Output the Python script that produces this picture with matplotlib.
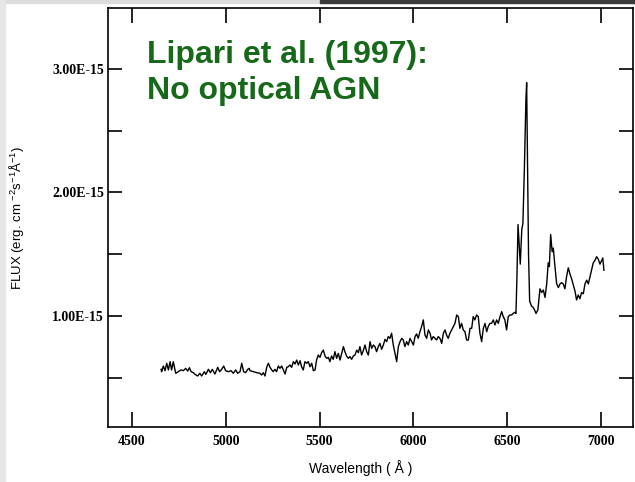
import matplotlib.pyplot as plt
from matplotlib.patches import Rectangle

# spectrum (wavelength in Angstrom, flux in 1e-15 erg/cm2/s/A)
wave = [
    4655, 4658, 4667, 4676, 4685, 4694, 4703, 4711, 4720, 4733, 4747, 4761, 4774, 4786,
    4797, 4806, 4815, 4827, 4836, 4850, 4862, 4871, 4886, 4894, 4907, 4918, 4928, 4942,
    4957, 4967, 4978, 4989, 4999, 5014, 5028, 5040, 5053, 5063, 5076, 5085, 5095, 5106,
    5117, 5125,
    5129, 5147, 5165, 5182, 5191, 5200, 5209, 5218, 5227, 5236, 5245, 5253, 5262, 5271,
    5280, 5289, 5298, 5307, 5316, 5325, 5333, 5342, 5351, 5360, 5369, 5378, 5387, 5396,
    5404, 5413, 5422, 5431, 5440, 5449, 5458, 5467, 5476, 5484, 5493, 5502, 5511, 5520,
    5529, 5538, 5547, 5555, 5564, 5573, 5582, 5591, 5600, 5609, 5618, 5627, 5635, 5644,
    5653, 5662, 5671, 5680, 5689, 5698, 5707, 5715, 5724, 5733, 5742, 5751, 5760, 5769,
    5778, 5787, 5795, 5804, 5813, 5822, 5831, 5840, 5849, 5858, 5866, 5875, 5884, 5893,
    5902, 5911, 5920, 5929, 5938, 5946, 5955, 5964, 5973, 5982, 5991, 6000, 6009, 6017,
    6026, 6035, 6044, 6053, 6062, 6071, 6080, 6089, 6097, 6106, 6115, 6124, 6133, 6142,
    6151, 6160, 6169, 6177, 6186, 6195, 6204, 6213, 6222, 6231,
    6240, 6248, 6257, 6266, 6275, 6284, 6293, 6302, 6311, 6319, 6328, 6337, 6346, 6355,
    6364, 6373, 6382, 6391, 6399, 6408, 6417, 6426, 6435, 6444, 6453, 6462, 6471, 6479,
    6488, 6497, 6506, 6515, 6524, 6533,
    6541, 6547, 6552, 6558, 6563, 6570, 6578, 6584, 6592, 6600, 6604, 6609, 6614, 6620,
    6630, 6638, 6646, 6654, 6664, 6675, 6684, 6693, 6702, 6711, 6719, 6725, 6732, 6740,
    6746, 6755, 6764, 6773, 6782, 6790, 6799, 6808, 6817, 6826, 6835, 6844, 6853, 6862,
    6870, 6879, 6888, 6897, 6906, 6915, 6924, 6933, 6942, 6950, 6959, 6968, 6977, 6986,
    6995, 7004, 7010, 7016,
]
flux = [
    0.568, 0.549, 0.595, 0.557, 0.617, 0.563, 0.630, 0.563, 0.630, 0.536, 0.549, 0.563, 0.557, 0.576,
    0.554, 0.581, 0.549, 0.541, 0.527, 0.514, 0.536, 0.514, 0.549, 0.527, 0.568, 0.541, 0.568, 0.530,
    0.584, 0.549, 0.568, 0.595, 0.557, 0.549, 0.557, 0.536, 0.563, 0.536, 0.549, 0.617, 0.549, 0.541,
    0.568, 0.576,
    0.557, 0.549, 0.541, 0.536, 0.522, 0.541, 0.514, 0.584, 0.617, 0.584, 0.563, 0.549, 0.568, 0.549,
    0.595, 0.576, 0.595, 0.563, 0.530, 0.584, 0.589, 0.603, 0.584, 0.630, 0.611, 0.643, 0.603, 0.638,
    0.589, 0.563, 0.630, 0.617, 0.630, 0.589, 0.617, 0.557, 0.563, 0.643, 0.684, 0.665, 0.703, 0.724,
    0.676, 0.657, 0.665, 0.630, 0.676, 0.649, 0.711, 0.657, 0.697, 0.643, 0.697, 0.752, 0.711, 0.676,
    0.657, 0.671, 0.649, 0.676, 0.684, 0.724, 0.703, 0.752, 0.684, 0.719, 0.765, 0.711, 0.684, 0.792,
    0.738, 0.765, 0.752, 0.711, 0.752, 0.778, 0.730, 0.765, 0.811, 0.792, 0.833, 0.819, 0.860, 0.765,
    0.697, 0.630, 0.752, 0.792, 0.819, 0.806, 0.752, 0.792, 0.765, 0.819, 0.792, 0.765, 0.833, 0.854,
    0.819, 0.873, 0.914, 0.968, 0.846, 0.819, 0.887, 0.860, 0.806, 0.833, 0.819, 0.806, 0.833, 0.819,
    0.778, 0.860, 0.887, 0.846, 0.819, 0.860, 0.887, 0.914, 0.941, 1.008,
    0.995, 0.900, 0.940, 0.887, 0.873, 0.805, 0.805, 0.900, 0.900, 0.995, 0.968, 1.008, 0.995, 0.860,
    0.792, 0.900, 0.940, 0.873, 0.914, 0.940, 0.940, 0.968, 0.927, 0.968, 0.940, 0.995, 1.035, 0.995,
    0.968, 0.887, 0.995, 1.008, 1.008, 1.022,
    1.03, 1.02, 1.30, 1.74, 1.60, 1.42, 1.70, 1.75, 2.20, 2.75, 2.89, 2.20, 1.50, 1.12,
    1.08, 1.07, 1.05, 1.02, 1.05, 1.22, 1.19, 1.21, 1.15, 1.26, 1.43, 1.40, 1.66, 1.52,
    1.55, 1.40, 1.26, 1.23, 1.26, 1.27, 1.26, 1.22, 1.32, 1.39, 1.34, 1.30, 1.25, 1.20,
    1.13, 1.17, 1.14, 1.19, 1.18, 1.26, 1.29, 1.26, 1.32, 1.37, 1.43, 1.45, 1.48, 1.46,
    1.42, 1.45, 1.47, 1.37,
]

xticks = [4500, 5000, 5500, 6000, 6500, 7000]
yticks = [1.0, 2.0, 3.0]
yticklabels = ['1.00E-15', '2.00E-15', '3.00E-15']
yminor = [0.5, 1.5, 2.5]

fig = plt.figure(figsize=(6.35, 4.82), dpi=100)
ax = fig.add_axes([108 / 635, 1 - 427 / 482, 525 / 635, 419 / 482])

ax.plot(wave, flux, color='black', lw=1.0)

ax.set_xlim(4372, 7171)
ax.set_ylim(0.101, 3.494)

ax.set_xticks(xticks)
ax.set_xticklabels([str(t) for t in xticks], fontfamily='Liberation Serif',
                   fontweight='bold', fontsize=10)
ax.set_yticks(yticks)
ax.set_yticklabels(yticklabels, fontfamily='Liberation Serif',
                   fontweight='bold', fontsize=10)
ax.set_yticks(yminor, minor=True)

ax.tick_params(axis='x', which='both', direction='in', length=11, width=1.2,
               top=True, pad=6)
ax.tick_params(axis='y', which='both', direction='in', length=10, width=1.2,
               right=True, pad=3)
for s in ax.spines.values():
    s.set_linewidth(1.2)

ax.set_xlabel('Wavelength ( Å )', fontfamily='Liberation Sans', fontsize=10)
ax.xaxis.set_label_coords(0.482, -0.079)
ax.set_ylabel(r'FLUX (erg. cm $^{\mathregular{-2}}$s$^{\mathregular{-1}}$Å$^{\mathregular{-1}}$)',
              fontfamily='Liberation Sans', fontsize=9.5)
ax.yaxis.set_label_coords(-0.157, 0.5)

green = '#17691a'
ax.text(0.074, 1 - (63 - 8) / 419, 'Lipari et al. (1997):', transform=ax.transAxes,
        color=green, fontsize=23, fontweight='bold', fontfamily='Liberation Sans',
        va='baseline')
ax.text(0.074, 1 - (99 - 8) / 419, 'No optical AGN', transform=ax.transAxes,
        color=green, fontsize=23, fontweight='bold', fontfamily='Liberation Sans',
        va='baseline')

# scan edges of the slide
fig.patches.append(Rectangle((0, 1 - 3 / 482), 320 / 635, 3 / 482,
                             transform=fig.transFigure, color='#dcdcdc', zorder=0))
fig.patches.append(Rectangle((320 / 635, 1 - 3 / 482), 315 / 635, 3 / 482,
                             transform=fig.transFigure, color='#3a3a3a', zorder=0))
fig.patches.append(Rectangle((0, 0), 5 / 635, 1, transform=fig.transFigure,
                             color='#e6e6e6', zorder=0))

fig.savefig('out.png', dpi=100)
